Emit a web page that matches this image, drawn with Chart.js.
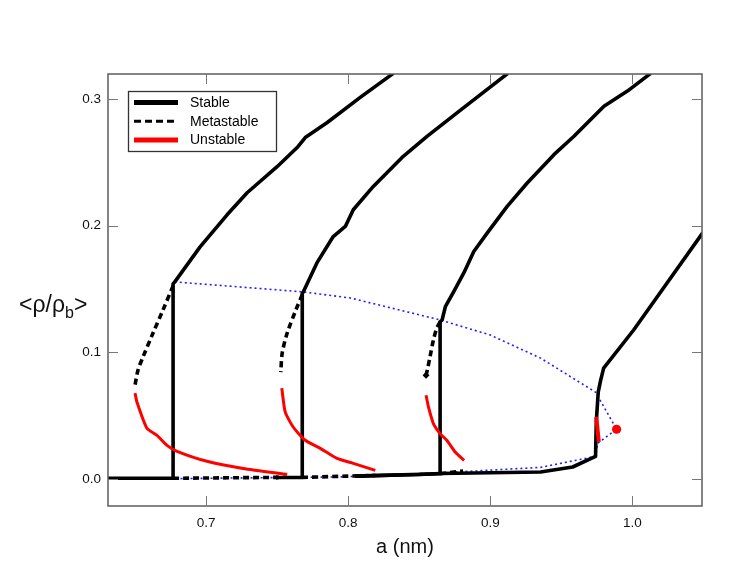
<!DOCTYPE html>
<html>
<head>
<meta charset="utf-8">
<script src="https://cdn.jsdelivr.net/npm/chart.js@4.4.1/dist/chart.umd.min.js"></script>
<style>
    body { margin: 0; background: #fff; }
    #wrap { width: 747px; height: 578px; }
</style>
</head>
<body>
<div id="wrap"><canvas id="chart"></canvas></div>
<script>
// axis ranges and ticks
const xRange = [0.631, 1.049];
const yRange = [-0.0214, 0.3198];
const xTicks = [0.7, 0.8, 0.9, 1.0];
const yTicks = [0.0, 0.1, 0.2, 0.3];

// branch data, [a (nm), <rho/rho_b>]
const stable1 = [[0.631, 0.0005], [0.6768, 0.0005], [0.6768, 0.1540], [0.6780, 0.1556], [0.6958, 0.1833], [0.7148, 0.2086],
    [0.7289, 0.2260], [0.7500, 0.2466], [0.7641, 0.2617], [0.7698, 0.2696], [0.7853, 0.2815], [0.8085, 0.3013], [0.8318, 0.3203]];
const meta1 = [[0.6768, 0.1525], [0.6697, 0.1334], [0.6627, 0.1152], [0.6556, 0.0962], [0.6521, 0.0859], [0.6500, 0.0740]];
const metaLow1 = [[0.6768, 0.0005], [0.7498, 0.0012], [0.7571, 0.0013]];
const unstable1 = [[0.6500, 0.0677], [0.6514, 0.0606], [0.6584, 0.0400], [0.6655, 0.0344], [0.6725, 0.0265], [0.6796, 0.0218],
    [0.7007, 0.0139], [0.7261, 0.0083], [0.7571, 0.0036]];

const stable2 = [[0.7498, 0.0011], [0.7677, 0.0012], [0.7677, 0.1465], [0.7684, 0.1477], [0.7780, 0.1706], [0.7895, 0.1914],
    [0.7980, 0.1994], [0.8036, 0.2126], [0.8177, 0.2310], [0.8388, 0.2548], [0.8555, 0.2706], [0.8795, 0.2917], [0.9124, 0.3203]];
const meta2 = [[0.7677, 0.1455], [0.7632, 0.1334], [0.7571, 0.1152], [0.7536, 0.0994], [0.7526, 0.0843]];
const metaLow2 = [[0.7677, 0.0012], [0.8191, 0.0028]];
const unstable2 = [[0.7533, 0.0717], [0.7557, 0.0529], [0.7613, 0.0410], [0.7698, 0.0305], [0.7804, 0.0241], [0.7921, 0.0162],
    [0.8036, 0.0123], [0.8191, 0.0067]];

const stable3 = [[0.805, 0.0022], [0.8647, 0.0041], [0.8647, 0.1241], [0.8661, 0.1255], [0.8684, 0.1360], [0.8743, 0.1479],
    [0.8813, 0.1625], [0.8884, 0.1796], [0.8978, 0.1941], [0.9119, 0.2152], [0.9260, 0.2337], [0.9448, 0.2561],
    [0.9589, 0.2706], [0.9800, 0.2944], [0.9965, 0.3063], [1.0129, 0.3203]];
const meta3 = [[0.8647, 0.1241], [0.8623, 0.1189], [0.8600, 0.1097], [0.8576, 0.0964], [0.8557, 0.0859], [0.8548, 0.0819]];
const metaLow3 = [[0.8647, 0.0041], [0.8809, 0.0062]];
const unstable3 = [[0.8548, 0.0661], [0.8565, 0.0569], [0.8600, 0.0437], [0.8647, 0.0358], [0.8694, 0.0305], [0.8753, 0.0212],
    [0.8816, 0.0146]];

const stable4 = [[0.805, 0.0022], [0.85, 0.0035], [0.8647, 0.0043], [0.9354, 0.0054],
    [0.958, 0.0094], [0.9741, 0.0178], [0.9746, 0.0450], [0.9760, 0.0687], [0.9777, 0.0780], [0.9798, 0.0875],
    [1.0009, 0.1176], [1.0495, 0.1944]];
const unstable4 = [[0.9746, 0.0489], [0.9764, 0.0291]];
const criticalPoint = [[0.9889, 0.0392]];

// dotted envelope through the transition points
const envelope = [[0.6780, 0.1556], [0.7684, 0.1477], [0.8015, 0.1429], [0.8649, 0.1255], [0.9001, 0.1136], [0.9354, 0.0954],
    [0.9741, 0.0685], [0.9889, 0.0392], [0.9755, 0.0281], [0.9741, 0.0178], [0.9354, 0.0091], [0.8649, 0.0048],
    [0.7944, 0.0016], [0.6775, 0.0002]];

const toXY = arr => arr.map(p => ({ x: p[0], y: p[1] }));

const stableStyle = { borderColor: '#000', borderWidth: 3.6, order: 2 };
const metaStyle = { borderColor: '#000', borderWidth: 3.6, borderDash: [6, 4], order: 2, tension: 0.3 };
const redStyle = { borderColor: '#ff0000', borderWidth: 3, order: 1, tension: 0.2 };

const line = (data, style, extra) => Object.assign({
    data: toXY(data), showLine: true, pointRadius: 0, tension: 0, fill: false,
    borderCapStyle: 'butt', borderJoinStyle: 'round'
}, style, extra || {});

const datasets = [
    line(envelope, { borderColor: '#2020ff', borderWidth: 1.6, borderDash: [2, 3], order: 3 }),
    line(stable1, stableStyle), line(stable2, stableStyle), line(stable3, stableStyle), line(stable4, stableStyle),
    line(meta1, metaStyle), line(meta2, metaStyle),
    line(meta3, metaStyle, { pointRadius: [0, 0, 0, 0, 0, 3.5], pointStyle: 'rectRot', pointBackgroundColor: '#000', pointBorderWidth: 0 }),
    line(metaLow1, metaStyle, { tension: 0, pointRadius: [0, 2.5, 0], pointStyle: 'rectRot', pointBackgroundColor: '#000', pointBorderWidth: 0 }),
    line(metaLow2, metaStyle), line(metaLow3, metaStyle),
    line(unstable1, redStyle), line(unstable2, redStyle), line(unstable3, redStyle),
    line(unstable4, redStyle, { borderWidth: 4, tension: 0 }),
    { data: toXY(criticalPoint), showLine: false, pointRadius: 4.6, pointBackgroundColor: '#ff0000', pointBorderWidth: 0, order: 0 }
];

const font = '"Liberation Sans", Arial, sans-serif';

const framePlugin = {
    id: 'frame',
    afterDraw(chart) {
        const ctx = chart.ctx;
        const { left, right, top, bottom } = chart.chartArea;
        const xs = chart.scales.x, ys = chart.scales.y;
        ctx.save();
        ctx.strokeStyle = '#5c5c5c';
        ctx.lineWidth = 1.5;
        ctx.strokeRect(left, top, right - left, bottom - top);
        ctx.lineWidth = 1;
        ctx.strokeStyle = '#777';
        ctx.beginPath();
        xTicks.forEach(v => {
            const px = Math.round(xs.getPixelForValue(v)) + 0.5;
            ctx.moveTo(px, bottom); ctx.lineTo(px, bottom - 10);
            ctx.moveTo(px, top); ctx.lineTo(px, top + 10);
        });
        yTicks.forEach(v => {
            const py = Math.round(ys.getPixelForValue(v)) + 0.5;
            ctx.moveTo(left, py); ctx.lineTo(left + 10, py);
            ctx.moveTo(right, py); ctx.lineTo(right - 10, py);
        });
        ctx.stroke();

        // legend
        const lx = 128.5, ly = 91.5;
        ctx.fillStyle = '#fff';
        ctx.fillRect(lx, ly, 148, 60);
        ctx.strokeStyle = '#333';
        ctx.lineWidth = 1.3;
        ctx.strokeRect(lx, ly, 148, 60);
        const rows = [
            { label: 'Stable', color: '#000', width: 5, dash: [] },
            { label: 'Metastable', color: '#000', width: 3, dash: [7, 4] },
            { label: 'Unstable', color: '#ff0000', width: 5, dash: [] }
        ];
        ctx.font = '14px ' + font;
        ctx.textBaseline = 'middle';
        rows.forEach((r, i) => {
            const y = 102.5 + i * 18.7;
            ctx.beginPath();
            ctx.setLineDash(r.dash);
            ctx.strokeStyle = r.color;
            ctx.lineWidth = r.width;
            ctx.moveTo(134, y); ctx.lineTo(178, y);
            ctx.stroke();
            ctx.setLineDash([]);
            ctx.fillStyle = '#000';
            ctx.fillText(r.label, 190, y + 0.5);
        });

        // axis titles
        ctx.fillStyle = '#111';
        ctx.font = '20px ' + font;
        ctx.textAlign = 'center';
        ctx.textBaseline = 'middle';
        ctx.fillText('a (nm)', (left + right) / 2, 547);

        ctx.textAlign = 'left';
        ctx.textBaseline = 'alphabetic';
        let tx = 19;
        const base = 312;
        ctx.font = '23px ' + font;
        ctx.fillText('<ρ/ρ', tx, base);
        tx += ctx.measureText('<ρ/ρ').width;
        ctx.font = '16px ' + font;
        ctx.fillText('b', tx, base + 6);
        tx += ctx.measureText('b').width;
        ctx.font = '23px ' + font;
        ctx.fillText('>', tx, base);
        ctx.restore();
    }
};

new Chart(document.getElementById('chart'), {
    type: 'scatter',
    data: { datasets: datasets },
    options: {
        responsive: true,
        maintainAspectRatio: false,
        animation: false,
        layout: { padding: { top: 74, right: 45, left: 0, bottom: 0 } },
        plugins: { legend: { display: false }, tooltip: { enabled: false } },
        scales: {
            x: {
                type: 'linear', min: xRange[0], max: xRange[1],
                grid: { display: false, drawTicks: false }, border: { display: false },
                afterBuildTicks: s => { s.ticks = xTicks.map(v => ({ value: v })); },
                afterFit: s => { s.height = 72; },
                ticks: { padding: 9, color: '#111', font: { family: font, size: 13.5 }, callback: v => v.toFixed(1) }
            },
            y: {
                type: 'linear', min: yRange[0], max: yRange[1],
                grid: { display: false, drawTicks: false }, border: { display: false },
                afterBuildTicks: s => { s.ticks = yTicks.map(v => ({ value: v })); },
                afterFit: s => { s.width = 108; },
                ticks: { padding: 7, color: '#111', font: { family: font, size: 13.5 }, callback: v => v.toFixed(1) }
            }
        }
    },
    plugins: [framePlugin]
});
</script>
</body>
</html>
